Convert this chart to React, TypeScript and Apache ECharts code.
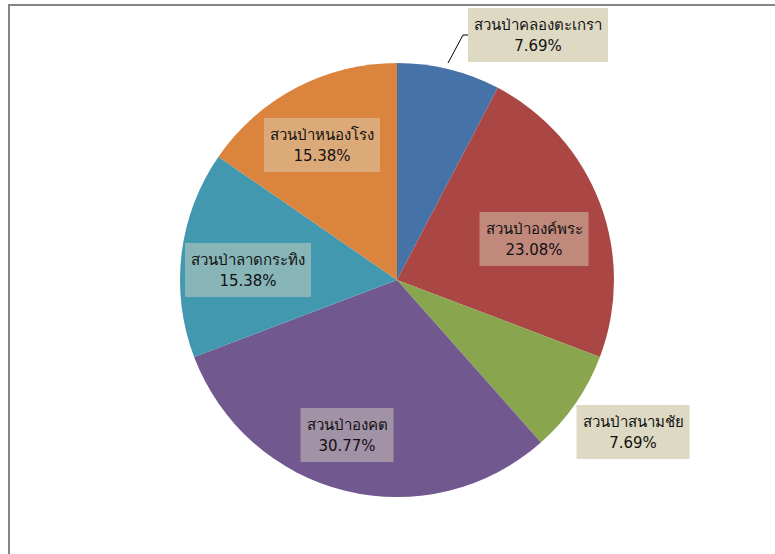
import React, { useEffect, useRef } from "react";
import * as echarts from "echarts";

const categories = [
  "สวนป่าคลองตะเกรา",
  "สวนป่าองค์พระ",
  "สวนป่าสนามชัย",
  "สวนป่าองคต",
  "สวนป่าลาดกระทิง",
  "สวนป่าหนองโรง",
];
const values = [1, 3, 1, 4, 2, 2];
const colors = ["#4572A7", "#AA4643", "#89A54E", "#71588F", "#4198AF", "#DB843D"];
const outsideLabel = [true, false, true, false, false, false];
const labelCenters: number[][] = [
  [538, 35],
  [534, 239],
  [633, 432],
  [347, 435],
  [248, 270],
  [322, 145],
];

export default function App() {
  const ref = useRef<HTMLDivElement>(null);
  useEffect(() => {
    if (!ref.current) return;
    const chart = echarts.init(ref.current, undefined, { renderer: "svg" });
    const total = values.reduce((a, b) => a + b, 0);
    chart.setOption({
      animation: false,
      backgroundColor: "#ffffff",
      graphic: [
        {
          type: "rect",
          shape: { x: 9, y: 5, width: 800, height: 600 },
          style: { fill: "none", stroke: "#868686", lineWidth: 2 },
          silent: true,
        },
      ],
      series: [
        {
          type: "pie",
          center: [397, 280],
          radius: 217,
          startAngle: 90,
          clockwise: true,
          avoidLabelOverlap: false,
          data: categories.map((name, i) => ({
            name,
            value: values[i],
            itemStyle: { color: colors[i] },
            label: {
              position: outsideLabel[i] ? "outside" : "inside",
              backgroundColor: outsideLabel[i] ? "#DDD9C3" : "rgba(221,217,195,0.45)",
            },
            labelLine: { show: i === 0 },
          })),
          label: {
            show: true,
            formatter: (p: any) =>
              p.name + "\n" + ((p.value / total) * 100).toFixed(2) + "%",
            color: "#111",
            fontFamily: "Tahoma, 'DejaVu Sans', 'Noto Sans', sans-serif",
            fontSize: 15,
            lineHeight: 21,
            align: "center",
            padding: [6, 6, 6, 6],
          },
          labelLine: {
            lineStyle: { color: "#000", width: 1 },
            length: 10,
            length2: 5,
          },
          labelLayout: (params: any) => {
            const i = params.dataIndex;
            const c = labelCenters[i];
            const res: any = { x: c[0], y: c[1], align: "center", verticalAlign: "middle" };
            if (i === 0) {
              res.labelLinePoints = [
                [448, 63],
                [463, 35],
                [468, 35],
              ];
            }
            return res;
          },
          emphasis: { disabled: true },
        },
      ],
    });
    return () => chart.dispose();
  }, []);
  return (
    <div
      ref={ref}
      style={{ position: "absolute", left: 0, top: 0, width: 775, height: 554 }}
    />
  );
}
